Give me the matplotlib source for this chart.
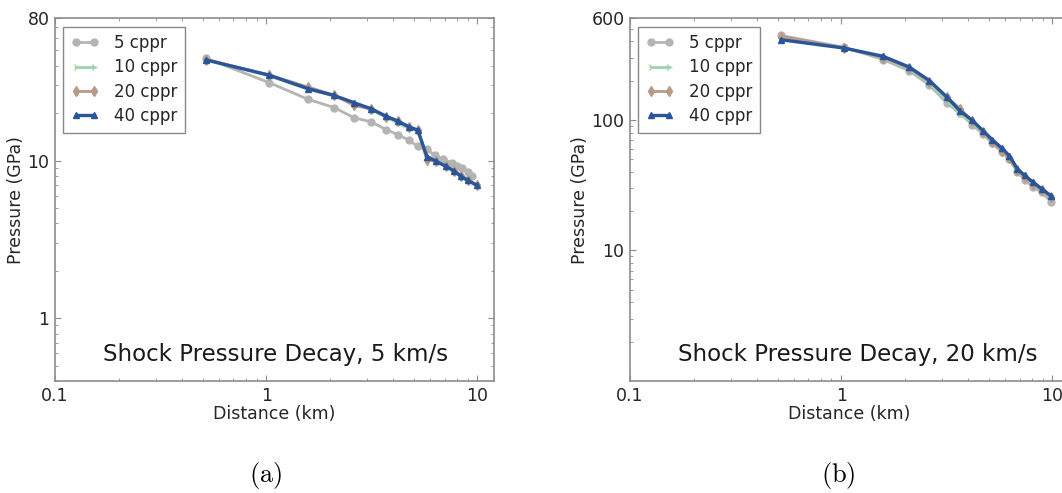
import numpy as np
import matplotlib
matplotlib.use("Agg")
import matplotlib.pyplot as plt
from matplotlib.ticker import FixedLocator, FixedFormatter, LogLocator, NullFormatter

# --- dados ---
labels = ["5 cppr", "10 cppr", "20 cppr", "40 cppr"]
cores = ["#b4b4b4", "#9ed4ad", "#b89a88", "#2b559a"]
marcadores = ["o", "4", "d", "^"]

# (a) 5 km/s
dist_a = [0.52, 1.03, 1.58, 2.1, 2.61, 3.15, 3.71, 4.21, 4.74, 5.23, 5.77, 6.38, 7.11, 7.79, 8.37, 9.0, 9.97]
p10_a = [44.0, 34.5, 28.4, 25.7, 23.0, 21.0, 18.8, 17.3, 16.0, 15.4, 10.7, 10.0, 9.3, 8.7, 8.1, 7.6, 7.0]
p20_a = [43.8, 35.0, 29.3, 26.0, 22.4, 21.2, 19.0, 17.8, 16.3, 15.6, 10.1, 9.9, 9.2, 8.6, 8.0, 7.5, 7.0]
p40_a = [43.5, 34.9, 28.6, 25.9, 23.3, 21.3, 19.1, 17.8, 16.4, 15.6, 10.6, 9.9, 9.2, 8.55, 7.95, 7.5, 6.96]
dist5_a = [0.52, 1.03, 1.58, 2.1, 2.61, 3.15, 3.71, 4.21, 4.74, 5.23, 5.77, 6.3, 6.85, 7.6, 8.0, 8.5, 9.0, 9.4]
p5_a = [44.6, 31.3, 24.5, 21.7, 18.7, 17.6, 15.7, 14.6, 13.5, 12.3, 11.8, 10.8, 10.25, 9.66, 9.3, 8.99, 8.5, 7.94]

# (b) 20 km/s
dist_b = [0.52, 1.03, 1.58, 2.1, 2.62, 3.16, 3.66, 4.17, 4.7, 5.2, 5.76, 6.25, 6.83, 7.4, 8.1, 8.9, 9.9]
p5_b = [443, 360, 290, 238, 185, 135, 112, 92, 78, 66, 57, 50, 39.8, 34.8, 30.6, 28.0, 23.5]
p10_b = [430, 358, 298, 245, 190, 140, 110, 96, 80, 68, 59, 52, 41, 36.5, 32.5, 29, 25.5]
p20_b = [435, 357, 300, 250, 196, 150, 122, 98, 81, 68, 58, 51, 41.5, 36.5, 32.5, 29, 25.5]
p40_b = [411, 355, 307, 254, 200, 150, 117, 99.5, 82.5, 70.4, 60.9, 53.3, 42.2, 37.5, 33.4, 29.7, 26.1]

series_a = [(dist5_a, p5_a), (dist_a, p10_a), (dist_a, p20_a), (dist_a, p40_a)]
series_b = [(dist_b, p5_b), (dist_b, p10_b), (dist_b, p20_b), (dist_b, p40_b)]

titulos = ["Shock Pressure Decay, 5 km/s", "Shock Pressure Decay, 20 km/s"]
ylims = [(0.4, 80), (1, 600)]
yticks = [[1, 10, 80], [10, 100, 600]]
legendas = ["(a)", "(b)"]

fig = plt.figure(figsize=(10.62, 4.93), dpi=100)
posicoes = [[0.0518, 0.2272, 0.4134, 0.7357], [0.5932, 0.2272, 0.4134, 0.7357]]
centros_rotulo = [0.2505, 0.789]
centros_titulo = [0.503, 0.519]

texto = "#262626"
eixo = "#8c8c8c"

for i, series in enumerate([series_a, series_b]):
    ax = fig.add_axes(posicoes[i])
    for k, (x, y) in enumerate(series):
        lw = 2.4 if k == 3 else 2.0
        ax.plot(x, y, color=cores[k], marker=marcadores[k], markersize=5,
                markeredgecolor=cores[k], markeredgewidth=1.0, lw=lw, label=labels[k])
    ax.set_xscale("log")
    ax.set_yscale("log")
    ax.set_xlim(0.1, 12)
    ax.set_ylim(*ylims[i])
    ax.xaxis.set_major_locator(FixedLocator([0.1, 1, 10]))
    ax.xaxis.set_major_formatter(FixedFormatter(["0.1", "1", "10"]))
    ax.xaxis.set_minor_locator(LogLocator(base=10, subs=np.arange(2, 10)))
    ax.xaxis.set_minor_formatter(NullFormatter())
    ax.yaxis.set_major_locator(FixedLocator(yticks[i]))
    ax.yaxis.set_major_formatter(FixedFormatter([str(v) for v in yticks[i]]))
    ax.yaxis.set_minor_locator(LogLocator(base=10, subs=np.arange(2, 10)))
    ax.yaxis.set_minor_formatter(NullFormatter())
    ax.tick_params(which="both", direction="in", top=True, right=True, colors=eixo,
                   labelcolor=texto, labelsize=12.5, pad=4)
    ax.tick_params(which="major", length=4, width=0.8)
    ax.tick_params(which="minor", length=2, width=0.6)
    for s in ax.spines.values():
        s.set_color(eixo)
        s.set_linewidth(1.2)
    ax.set_xlabel("Distance (km)", fontsize=12.5, color=texto, labelpad=0)
    ax.set_ylabel("Pressure (GPa)", fontsize=12.5, color=texto, labelpad=2)
    ax.text(centros_titulo[i], 0.074, titulos[i], transform=ax.transAxes, ha="center",
            va="center", fontsize=16.5, color="#1a1a1a")
    leg = ax.legend(loc="upper left", numpoints=2, fontsize=12, fancybox=False,
                    framealpha=1, edgecolor="#888888", handlelength=1.7,
                    borderpad=0.45, labelspacing=0.38, handletextpad=0.9,
                    borderaxespad=0.5)
    for t in leg.get_texts():
        t.set_color(texto)
    fig.text(centros_rotulo[i], 0.036, r"$\mathrm{" + legendas[i] + "}$", ha="center",
             va="center", fontsize=19, math_fontfamily="cm")

fig.savefig("out.png", dpi=100)
